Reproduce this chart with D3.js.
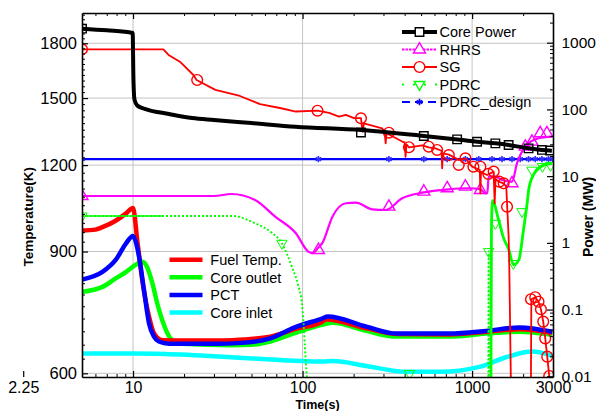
<!DOCTYPE html>
<html>
<head>
<meta charset="utf-8">
<script src="https://cdn.jsdelivr.net/npm/d3@7/dist/d3.min.js"></script>
<style>
  body { margin: 0; background: #fff; }
  svg text { font-family: "Liberation Sans", Arial, sans-serif; fill: #000; }
</style>
</head>
<body>
<svg id="chart" width="596" height="411"></svg>
<script>
// ---------- data (time in s) ----------
// temperatures (K), left axis
const fuelTime = [5, 6, 6.6, 7.9, 9.1, 10, 10.6, 11.34, 12.42, 13.3, 14.87, 20, 30.5, 38.4, 64.6, 90, 130, 138, 238, 357, 735, 1209, 1898, 2969];
const fuelTemp = [965, 968, 976, 997, 1022, 1040, 932, 818, 725, 685, 670, 669, 669, 670, 678, 695, 712, 718, 697, 684, 683, 689, 695, 687];

const pctTime = [5, 6.6, 7.9, 9.1, 10, 10.4, 10.85, 11.6, 12.42, 13.3, 14.2, 16.3, 30.5, 44, 64.6, 90, 130, 141, 238, 357, 735, 1209, 1898, 2969];
const pctTemp = [820, 841, 875, 925, 948, 928, 885, 792, 709, 678, 667, 662, 662, 664, 674, 699, 720, 725, 701, 685, 685, 691, 699, 689];

const outletTime = [5, 6.6, 7.9, 9.1, 10, 11.34, 12.1, 13, 13.9, 14.87, 17, 19.5, 38.4, 50, 64.6, 90, 130, 151, 238, 357, 735, 1209, 1898, 2969];
const outletTemp = [787, 800, 823, 841, 856, 870, 855, 810, 757, 716, 670, 662, 659, 660, 667, 686, 705, 710, 691, 678, 678, 685, 689, 682];

const inletTime = [5, 10, 15.5, 48, 130, 151, 238, 409, 642, 1104, 1585, 2263, 2969];
const inletTemp = [641, 641, 640, 631, 624, 625, 615, 603, 603, 613, 633, 645, 636];

// powers (MW), right axis
const coreTime = [5, 7, 9.95, 10.05, 10.2, 10.6, 11.86, 16.3, 22.3, 30, 50, 91, 221, 519, 873, 1070, 1371, 1642, 2153, 2581, 2956];
const corePower = [1622, 1530, 1400, 300, 140, 114, 101, 85.4, 74.4, 69.4, 62.5, 55.1, 49.1, 40, 34.8, 32.8, 31, 29.3, 26.1, 24.7, 24.1];
const coreMarkTime = [5, 221, 519, 816, 1070, 1371, 1642, 2153, 2581, 2887];
const coreMarkPower = [1622, 45, 40, 35.6, 32.8, 31, 29.3, 26.1, 24.7, 24.2];

const rhrsTime = [5, 30, 38, 52.5, 68.9, 91.3, 108, 114.5, 124, 131, 150, 180, 206, 258, 309, 387, 508, 729, 955, 1119, 1197, 1230, 1252, 1371, 1501, 1719, 1840, 2058, 2465, 2956];
const rhrsPower = [5.04, 5.04, 5.4, 4.39, 2.47, 1.39, 0.74, 0.70, 0.85, 1.0, 2.47, 3.92, 4.0, 3.18, 3.11, 4.66, 5.65, 6.35, 6.58, 6.35, 5.53, 5.6, 9.81, 9.81, 8.75, 8.26, 15.6, 27.6, 36.9, 39.0];
const rhrsMarkTime = [5, 124, 323, 519, 713, 913, 1119, 1719, 2058, 2254, 2522, 2761];
const rhrsMarkPower = [5.04, 0.78, 3.48, 5.85, 6.58, 6.95, 6.19, 7.81, 27.6, 32.8, 43.9, 43.9];

const sgTime = [5, 15.1, 16.2, 18.9, 22.7, 23.7, 30.6, 42.7, 56.1, 73.5, 91.3, 122.5, 143.4, 164, 180, 201, 221, 226, 230, 295, 305, 309, 313, 387, 400, 405, 410, 424, 508, 555, 608, 660, 666, 672, 729, 834, 913, 1000, 1110, 1119, 1128, 1225, 1340, 1358, 1375, 1434, 1534, 1590, 1607, 1642, 1658, 1700, 2220, 2235, 2357, 2465, 2546, 2627, 2700, 2774, 2850, 2950];
const sgPower = [796, 796, 655, 519, 328, 276, 196, 159, 120, 105, 93, 96, 89, 78, 83, 74, 74, 46, 62, 52, 45, 31, 44, 33, 32, 19.5, 30, 27, 29, 27, 26, 24, 13.1, 22, 21, 17.5, 18.5, 13.9, 12.4, 5.5, 11.5, 10.4, 11.7, 3.9, 9, 8.3, 7.8, 7, 3.9, 1.24, 0.39, 0.004, 0.004, 0.143, 0.153, 0.131, 0.101, 0.066, 0.037, 0.0197, 0.0101, 0.004];
const sgMarkTime = [5, 23.9, 122.5, 221, 323, 424, 555, 622, 729, 834, 913, 1018, 1119, 1247, 1340, 1447, 1534, 1607, 2224, 2357, 2465, 2546, 2627, 2700, 2774, 2850];
const sgMarkPower = [796, 276, 95.7, 73.6, 44.8, 27.1, 27.6, 24.7, 20.7, 14.7, 18.5, 13.85, 13.85, 10.8, 11.7, 8.26, 7.81, 3.48, 0.143, 0.153, 0.131, 0.101, 0.066, 0.037, 0.0197, 0.0101];

const pdrcTime = [5, 15, 38.4, 52.6, 64.6, 75.5, 86.5, 94.7, 99.1, 101.4, 103.2, 106, 110, 1245, 1252, 1258, 1290, 1300, 1318, 1434, 1530, 1642, 1757, 1884, 2012, 2100, 2172, 2357, 2637, 2956];
const pdrcPower = [2.53, 2.53, 2.53, 1.96, 1.47, 0.985, 0.439, 0.22, 0.124, 0.0622, 0.0278, 0.00986, 0.005, 0.005, 0.75, 0.005, 0.005, 1.5, 4.3, 2.2, 1.2, 0.8, 0.47, 0.55, 1.6, 3.5, 6.9, 11.5, 14.6, 15.6];
const pdrcMarkTime = [5, 75.5, 428, 1252, 1371, 1750, 1968, 2254, 2600, 2900];
const pdrcMarkPower = [2.53, 0.985, 0.011, 0.74, 1.96, 0.49, 2.94, 12.3, 14, 14.5];

const designTime = [5, 124, 323, 519, 713, 913, 1094, 1311, 1501, 1719, 1923, 2153, 2357, 2581, 2822, 2990];
const designPower = [18, 18, 18, 18, 18, 18, 18, 18, 18, 18, 18, 18, 18, 18, 18, 18];

// ticks
const timeTicks = [2.25, 10, 100, 1000, 3000];
const tempTicks = [600, 900, 1200, 1500, 1800];
const powerTicks = [0.01, 0.1, 1, 10, 100, 1000];

// ---------- layout ----------
const pL = 82, pR = 553, pT = 13, pB = 377;
const font = '"Liberation Sans", Arial, sans-serif';

const x = d3.scaleLog().domain([5, 3000]).range([pL, pR]);
const yT = d3.scaleLog().domain([592.7, 1991]).range([pB, pT]);
const yP = d3.scaleLog().domain([0.00976, 2786]).range([pB, pT]);

const timeMinor = [];
[1, 10, 100, 1000].forEach(dec => d3.range(2, 10).forEach(m => {
  const v = m * dec;
  if (v > 5 && v < 3000 && v !== 10 && v !== 100 && v !== 1000) timeMinor.push(v);
}));
const tempMinor = d3.range(630, 1990, 30).filter(v => v % 300 !== 0);
const powerMinor = [];
[0.01, 0.1, 1, 10, 100, 1000].forEach(dec => d3.range(2, 10).forEach(m => {
  const v = m * dec;
  if (v < 2786) powerMinor.push(v);
}));

const svg = d3.select("#chart");

svg.append("defs").append("clipPath").attr("id", "plotClip")
  .append("rect")
  .attr("x", pL).attr("y", pT)
  .attr("width", pR - pL).attr("height", pB - pT);

// grid
const grid = svg.append("g").attr("stroke", "#c4c4c4").attr("stroke-width", 1);
grid.selectAll(".gx").data([10, 100, 1000]).join("line").attr("class", "gx")
  .attr("x1", d => x(d)).attr("x2", d => x(d)).attr("y1", pT).attr("y2", pB);
grid.selectAll(".gy").data(tempTicks).join("line").attr("class", "gy")
  .attr("x1", pL).attr("x2", pR).attr("y1", d => yT(d)).attr("y2", d => yT(d));

// ---------- curves ----------
const pairs = (t, v) => t.map((d, i) => [d, v[i]]);
const lineT = d3.line().x(d => x(d[0])).y(d => yT(d[1])).curve(d3.curveMonotoneX);
const lineP = d3.line().x(d => x(d[0])).y(d => yP(d[1])).curve(d3.curveMonotoneX);
const lineLin = d3.line().x(d => x(d[0])).y(d => yP(d[1]));

const plotG = svg.append("g").attr("clip-path", "url(#plotClip)");

function path(d, color, w, dash) {
  const p = plotG.append("path").attr("d", d).attr("fill", "none")
    .attr("stroke", color).attr("stroke-width", w)
    .attr("stroke-linejoin", "round");
  if (dash) p.attr("stroke-dasharray", dash);
  return p;
}

function markers(g, pts, yScale, type, size, color, rot, sw) {
  g.selectAll(null).data(pts).join("path")
    .attr("d", d3.symbol().type(type).size(size))
    .attr("transform", d => `translate(${x(d[0])},${yScale(d[1])})` + (rot ? " rotate(180)" : ""))
    .attr("fill", "none").attr("stroke", color).attr("stroke-width", sw || 1.4);
}

// temperature lines
path(lineT(pairs(inletTime, inletTemp)), "#00ffff", 4.5);
path(lineT(pairs(outletTime, outletTemp)), "#00ff00", 4.5);
path(lineT(pairs(fuelTime, fuelTemp)), "#ff0000", 4.5);
path(lineT(pairs(pctTime, pctTemp)), "#0000ff", 4.5);

// PDRC design
path(lineLin(pairs(designTime, designPower)), "#0000ff", 2.2);
plotG.selectAll(null).data(pairs(designTime, designPower)).join("path")
  .attr("d", d3.symbol().type(d3.symbolAsterisk).size(28))
  .attr("transform", d => `translate(${x(d[0])},${yP(d[1])})`)
  .attr("stroke", "#3030ff").attr("stroke-width", 1.6).attr("fill", "none");

// PDRC
const pdrcPts = pairs(pdrcTime, pdrcPower);
path(lineP(pdrcPts), "#00ff00", 1.9, "2,2");
path(d3.line().x(d => x(d[0])).y(d => yP(d[1])).curve(d3.curveMonotoneX)
  .defined(d => d[0] <= 15)(pdrcPts), "#00ff00", 1.6);
path(d3.line().x(d => x(d[0])).y(d => yP(d[1])).curve(d3.curveMonotoneX)
  .defined(d => d[0] >= 1290)(pdrcPts), "#00ff00", 2.8);
markers(plotG, pairs(pdrcMarkTime, pdrcMarkPower), yP, d3.symbolTriangle, 46, "#00ff00", true, 1);

// RHRS
path(lineP(pairs(rhrsTime, rhrsPower)), "#ff00ff", 2.2);
markers(plotG, pairs(rhrsMarkTime, rhrsMarkPower), yP, d3.symbolTriangle, 62, "#ff00ff", false, 1.4);

// SG
path(lineLin(pairs(sgTime, sgPower)), "#ff0000", 1.8);
markers(plotG, pairs(sgMarkTime, sgMarkPower), yP, d3.symbolCircle, 90, "#ff0000", false, 1.4);

// Core power
path(lineP(pairs(coreTime, corePower)), "#000", 4);
markers(plotG, pairs(coreMarkTime, coreMarkPower), yP, d3.symbolSquare, 72, "#000", false, 1.4);

// ---------- axes ----------
function styleAxis(g, fontSize) {
  g.select(".domain").attr("stroke", "#000").attr("stroke-width", 1.6);
  g.selectAll(".tick line").attr("stroke", "#000").attr("stroke-width", 1.2);
  g.selectAll(".tick text").attr("font-family", font).attr("font-size", fontSize).attr("fill", "#000");
}
function minorAxis(g) {
  g.select(".domain").remove();
  g.selectAll(".tick line").attr("stroke", "#000").attr("stroke-width", 1);
}

svg.append("g").attr("transform", `translate(0,${pB})`)
  .call(d3.axisBottom(x).tickValues(timeTicks).tickFormat(d => String(d))
    .tickSizeInner(-6).tickSizeOuter(0).tickPadding(5))
  .call(g => styleAxis(g, 16));
svg.append("g").attr("transform", `translate(0,${pB})`)
  .call(d3.axisBottom(x).tickValues(timeMinor).tickFormat("").tickSize(-3))
  .call(minorAxis);

svg.append("g").attr("transform", `translate(0,${pT})`)
  .call(d3.axisTop(x).tickValues([10, 100, 1000]).tickFormat("").tickSizeInner(-6).tickSizeOuter(0))
  .call(g => styleAxis(g, 0));
svg.append("g").attr("transform", `translate(0,${pT})`)
  .call(d3.axisTop(x).tickValues(timeMinor).tickFormat("").tickSize(-3))
  .call(minorAxis);

svg.append("g").attr("transform", `translate(${pL},0)`)
  .call(d3.axisLeft(yT).tickValues(tempTicks).tickFormat(d => String(d))
    .tickSizeInner(-6).tickSizeOuter(0).tickPadding(5))
  .call(g => styleAxis(g, 16.5));
svg.append("g").attr("transform", `translate(${pL},0)`)
  .call(d3.axisLeft(yT).tickValues(tempMinor).tickFormat("").tickSize(-3))
  .call(minorAxis);

svg.append("g").attr("transform", `translate(${pR},0)`)
  .call(d3.axisRight(yP).tickValues(powerTicks).tickFormat(d => String(d))
    .tickSizeInner(-6).tickSizeOuter(0).tickPadding(8.5))
  .call(g => styleAxis(g, 15.5));
svg.append("g").attr("transform", `translate(${pR},0)`)
  .call(d3.axisRight(yP).tickValues(powerMinor).tickFormat("").tickSize(-3))
  .call(minorAxis);

// axis titles
svg.append("text").attr("transform", "translate(33,216.7) rotate(-90)")
  .attr("text-anchor", "middle").attr("font-weight", "bold").attr("font-size", 13.5)
  .text("Temperature(K)");
svg.append("text").attr("transform", "translate(593,217) rotate(-90)")
  .attr("text-anchor", "middle").attr("font-weight", "bold").attr("font-size", 14)
  .text("Power (MW)");
svg.append("text").attr("x", 317.5).attr("y", 408.5)
  .attr("text-anchor", "middle").attr("font-weight", "bold").attr("font-size", 12.5)
  .text("Time(s)");

// ---------- legends ----------
const powerLegend = [
  {name: "Core Power", color: "#000", w: 4, dash: null, sym: d3.symbolSquare, size: 72, rot: false},
  {name: "RHRS", color: "#ff00ff", w: 2, dash: "2.5,1", sym: d3.symbolTriangle, size: 62, rot: false},
  {name: "SG", color: "#ff0000", w: 1.8, dash: null, sym: d3.symbolCircle, size: 90, rot: false},
  {name: "PDRC", color: "#00ff00", w: 1.8, dash: "2,9", sym: d3.symbolTriangle, size: 46, rot: true},
  {name: "PDRC_design", color: "#0000ff", w: 2, dash: "8,5", sym: d3.symbolAsterisk, size: 28, rot: false}
];
const lg1 = svg.append("g");
powerLegend.forEach((d, i) => {
  const cy = 32 + i * 17.5;
  const ln = lg1.append("line").attr("x1", 402).attr("x2", 437).attr("y1", cy).attr("y2", cy)
    .attr("stroke", d.color).attr("stroke-width", d.w);
  if (d.dash) ln.attr("stroke-dasharray", d.dash);
  lg1.append("path").attr("d", d3.symbol().type(d.sym).size(d.size))
    .attr("transform", `translate(419.5,${cy})` + (d.rot ? " rotate(180)" : ""))
    .attr("fill", d.sym === d3.symbolAsterisk ? "none" : "#fff")
    .attr("stroke", d.color).attr("stroke-width", d.sym === d3.symbolAsterisk ? 1.6 : 1.4);
  lg1.append("text").attr("x", 439.5).attr("y", cy + 5.2).attr("font-size", 14.5).text(d.name);
});

const tempLegend = [
  {name: "Fuel Temp.", color: "#ff0000"},
  {name: "Core outlet", color: "#00ff00"},
  {name: "PCT", color: "#0000ff"},
  {name: "Core inlet", color: "#00ffff"}
];
const lg2 = svg.append("g");
tempLegend.forEach((d, i) => {
  const cy = 259.7 + i * 17.6;
  lg2.append("line").attr("x1", 169.5).attr("x2", 202.5).attr("y1", cy).attr("y2", cy)
    .attr("stroke", d.color).attr("stroke-width", 4.5);
  lg2.append("text").attr("x", 210.3).attr("y", cy + 5.2).attr("font-size", 14.5).text(d.name);
});
</script>
</body>
</html>
